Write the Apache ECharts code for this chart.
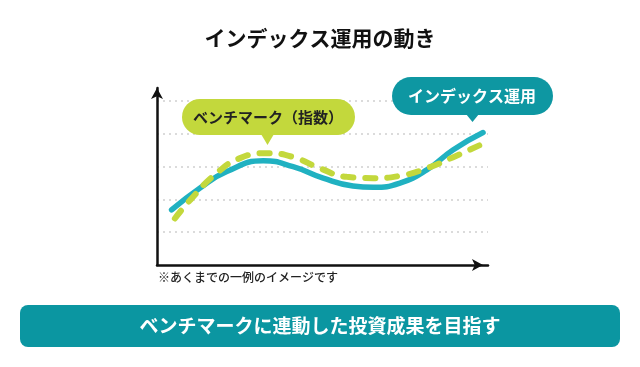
<!DOCTYPE html>
<html>
<head>
<meta charset="utf-8">
<script src="https://cdn.jsdelivr.net/npm/echarts@6/dist/echarts.min.js"></script>
<style>
html,body{margin:0;padding:0;background:#fff;}
#c{width:640px;height:367px;}
</style>
</head>
<body>
<div id="c"></div>
<script>
// Data
const indexX = [0.44, 1.30, 2.11, 3.21, 4.11, 5.02, 5.92, 6.53, 7.34, 8.15, 8.94, 9.85];
const indexY = [1.68, 2.35, 2.85, 3.18, 3.00, 2.65, 2.41, 2.37, 2.50, 2.90, 3.51, 4.04];
const benchX = [0.54, 1.00, 1.80, 2.51, 3.31, 4.12, 4.92, 5.73, 6.53, 7.34, 8.15, 8.95, 9.76];
const benchY = [1.42, 1.98, 2.80, 3.26, 3.41, 3.29, 2.95, 2.69, 2.65, 2.72, 2.95, 3.29, 3.66];
const yTicks = [0, 1, 2, 3, 4, 5];

const titleText = 'インデックス運用の動き';
const benchLabel = 'ベンチマーク（指数）';
const indexLabel = 'インデックス運用';
const noteText = '※あくまでの一例のイメージです';
const bannerText = 'ベンチマークに連動した投資成果を目指す';

const FONT = '"Noto Sans CJK JP", "Noto Sans", sans-serif';
const zip = (xs, ys) => xs.map((x, i) => [x, ys[i]]);

const chart = echarts.init(document.getElementById('c'));
chart.setOption({
  backgroundColor: '#ffffff',
  animation: false,
  grid: { left: 157, right: 152, top: 88, bottom: 102 },
  xAxis: {
    type: 'value', min: 0, max: 10,
    axisLine: { show: true, lineStyle: { color: '#111', width: 2.5 }, symbol: ['none', 'arrow'], symbolSize: [9, 11], symbolOffset: [0, -5] },
    axisTick: { show: false }, axisLabel: { show: false }, splitLine: { show: false }
  },
  yAxis: {
    type: 'value', min: yTicks[0], max: 5.4, interval: 1,
    axisLine: { show: true, lineStyle: { color: '#111', width: 2.5 }, symbol: ['none', 'arrow'], symbolSize: [9, 11] },
    axisTick: { show: false }, axisLabel: { show: false },
    splitLine: { show: true, showMinLine: false, showMaxLine: false, lineStyle: { color: '#cfcfcf', width: 1.5, type: [2, 4] } }
  },
  series: [
    {
      name: indexLabel, type: 'line', data: zip(indexX, indexY), smooth: 0.5, symbol: 'none', clip: false,
      lineStyle: { color: '#20b1c1', width: 5.5, cap: 'round' }, z: 3
    },
    {
      name: benchLabel, type: 'line', data: zip(benchX, benchY), smooth: 0.5, symbol: 'none', clip: false,
      lineStyle: { color: '#c3d83c', width: 6, type: [10, 12], cap: 'round' }, z: 4
    }
  ],
  graphic: [
    { type: 'text', left: 'center', top: 28, style: { text: titleText, font: 'bold 21px ' + FONT, fill: '#111' } },
    // benchmark callout
    { type: 'rect', shape: { x: 182, y: 99, width: 173, height: 36, r: 18 }, style: { fill: '#c3d83c' }, z: 10 },
    { type: 'polygon', shape: { points: [[261, 134], [274, 134], [267.5, 145]] }, style: { fill: '#c3d83c' }, z: 10 },
    { type: 'text', x: 268, y: 117, style: { text: benchLabel, font: 'bold 15px ' + FONT, fill: '#222', align: 'center', verticalAlign: 'middle' }, z: 11 },
    // index callout
    { type: 'rect', shape: { x: 392, y: 77, width: 161, height: 38, r: 19 }, style: { fill: '#0e97a2' }, z: 10 },
    { type: 'polygon', shape: { points: [[466, 114], [479, 114], [472.5, 122]] }, style: { fill: '#0e97a2' }, z: 10 },
    { type: 'text', x: 472, y: 96, style: { text: indexLabel, font: 'bold 16px ' + FONT, fill: '#fff', align: 'center', verticalAlign: 'middle' }, z: 11 },
    // note
    { type: 'text', x: 158, y: 277, style: { text: noteText, font: '500 12px ' + FONT, fill: '#222', verticalAlign: 'middle' } },
    // banner
    { type: 'rect', shape: { x: 20, y: 305, width: 600, height: 42, r: 8 }, style: { fill: '#0b96a1' } },
    { type: 'text', x: 320, y: 326, style: { text: bannerText, font: 'bold 19px ' + FONT, fill: '#fff', align: 'center', verticalAlign: 'middle' } }
  ]
});
</script>
</body>
</html>
